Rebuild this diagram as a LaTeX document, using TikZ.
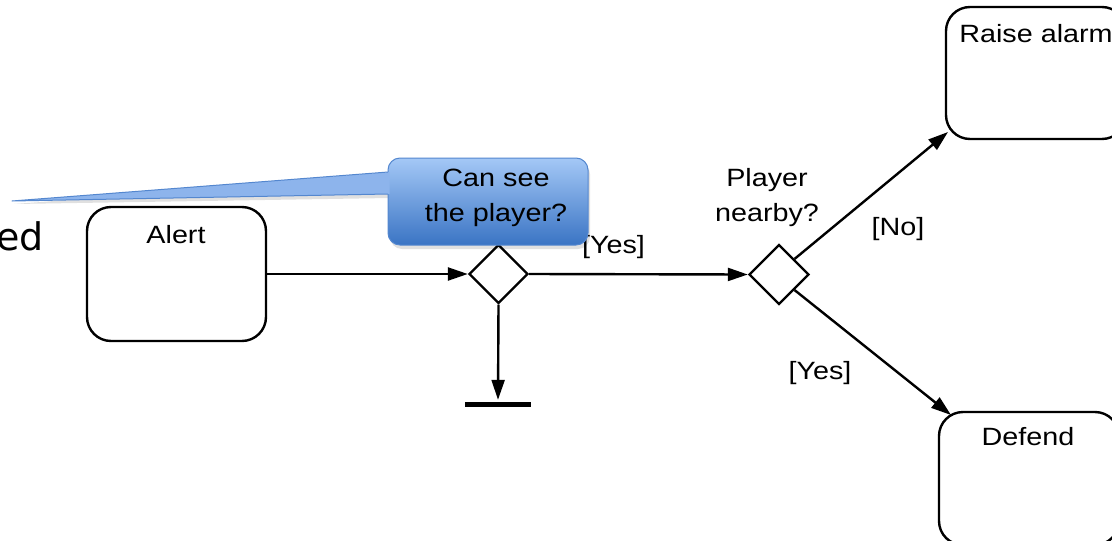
\documentclass[tikz,border=0pt]{standalone}
\usepackage{fontspec}
\setmainfont{Liberation Sans}[FakeStretch=1.15]
\newfontfamily\edfont{DejaVu Sans}
\usetikzlibrary{shapes.geometric,arrows.meta}
\definecolor{calloutTop}{HTML}{A4C8F6}
\definecolor{calloutBottom}{HTML}{3A74C4}
\definecolor{calloutEdge}{HTML}{5487CF}
\definecolor{calloutTail}{HTML}{8DB4EC}
\tikzset{
  flow/.style={line width=2.4pt, -{Triangle[length=20pt,width=13pt]}},
  statebox/.style={draw, line width=2.4pt, rounded corners=24pt, fill=white,
    minimum width=179pt, minimum height=134pt, inner sep=0pt},
  decision/.style={draw, diamond, line width=2.4pt, fill=white,
    minimum width=59pt, minimum height=59pt, inner sep=0pt},
  stopbar/.style={fill=black, minimum width=66pt, minimum height=5pt, inner sep=0pt},
  lbl/.style={font=\fontsize{25}{35}\selectfont, inner sep=0pt, anchor=base, align=center},
}
\begin{document}
\begin{tikzpicture}[x=1pt, y=-1pt]
  \useasboundingbox (0,0) rectangle (1112,541);
  \fill[white] (0,0) rectangle (1112,541);
  \clip (0,0) rectangle (1112,541);

  % partial heading at the left edge
  \node[font=\edfont\fontsize{38}{44}\selectfont, inner sep=0pt, anchor=base east] (edword) at (44,250) {ed};

  % states
  \node[statebox] (alert) at (176.5,274) {};
  \node[statebox, minimum width=180pt, minimum height=132pt] (raise) at (1036,73) {};
  \node[statebox, minimum width=180pt, minimum height=133pt] (defend) at (1029,478.5) {};
  \node[lbl] (alertTxt) at (176,243) {Alert};
  \node[lbl] (raiseTxt) at (1036,42) {Raise alarm};
  \node[lbl] (defendTxt) at (1028,445) {Defend};

  % decisions and final bar
  \node[decision] (d1) at (498.5,274) {};
  \node[decision, minimum width=60pt, minimum height=60pt] (d2) at (779,274.5) {};
  \node[stopbar] (stop) at (498,404.5) {};

  \coordinate (alarmIn) at (948,132);
  \coordinate (defendIn) at (951,415);

  % connectors
  \draw[flow] (alert.east) -- (d1.west);
  \draw[flow, shorten >=2pt] (d1.south) -- (stop.north);
  \draw[flow] (d1.east) -- (d2.west);
  \draw[flow] (d2.north east) -- (alarmIn);
  \draw[flow] (d2.south east) -- (defendIn);

  % guard labels (base of a two-line node is its last line)
  \node[lbl] (yes1) at (613.5,253) {[Yes]};
  \node[lbl] (no2) at (898,235) {[No]};
  \node[lbl] (yes2) at (820,379) {[Yes]};
  \node[lbl] (nearby) at (767,221) {Player\\nearby?};

  % callout: shadow, body, tail
  \fill[black, opacity=0.12] (14,204) -- (390,176) -- (390,198) -- cycle;
  \fill[black, opacity=0.12, rounded corners=12pt] (390,162) rectangle (590,249);
  \shade[top color=calloutTop, bottom color=calloutBottom, draw=calloutEdge,
    line width=1pt, rounded corners=12pt] (388,158) rectangle (588,245);
  \fill[calloutTail] (12,201) -- (389.5,172) -- (389.5,194) -- cycle;
  \draw[calloutEdge, line width=1pt, line join=round] (388,172) -- (12,201) -- (388,194);
  \node[lbl] (callTxt) at (496,221) {Can see\\the player?};
\end{tikzpicture}
\end{document}
